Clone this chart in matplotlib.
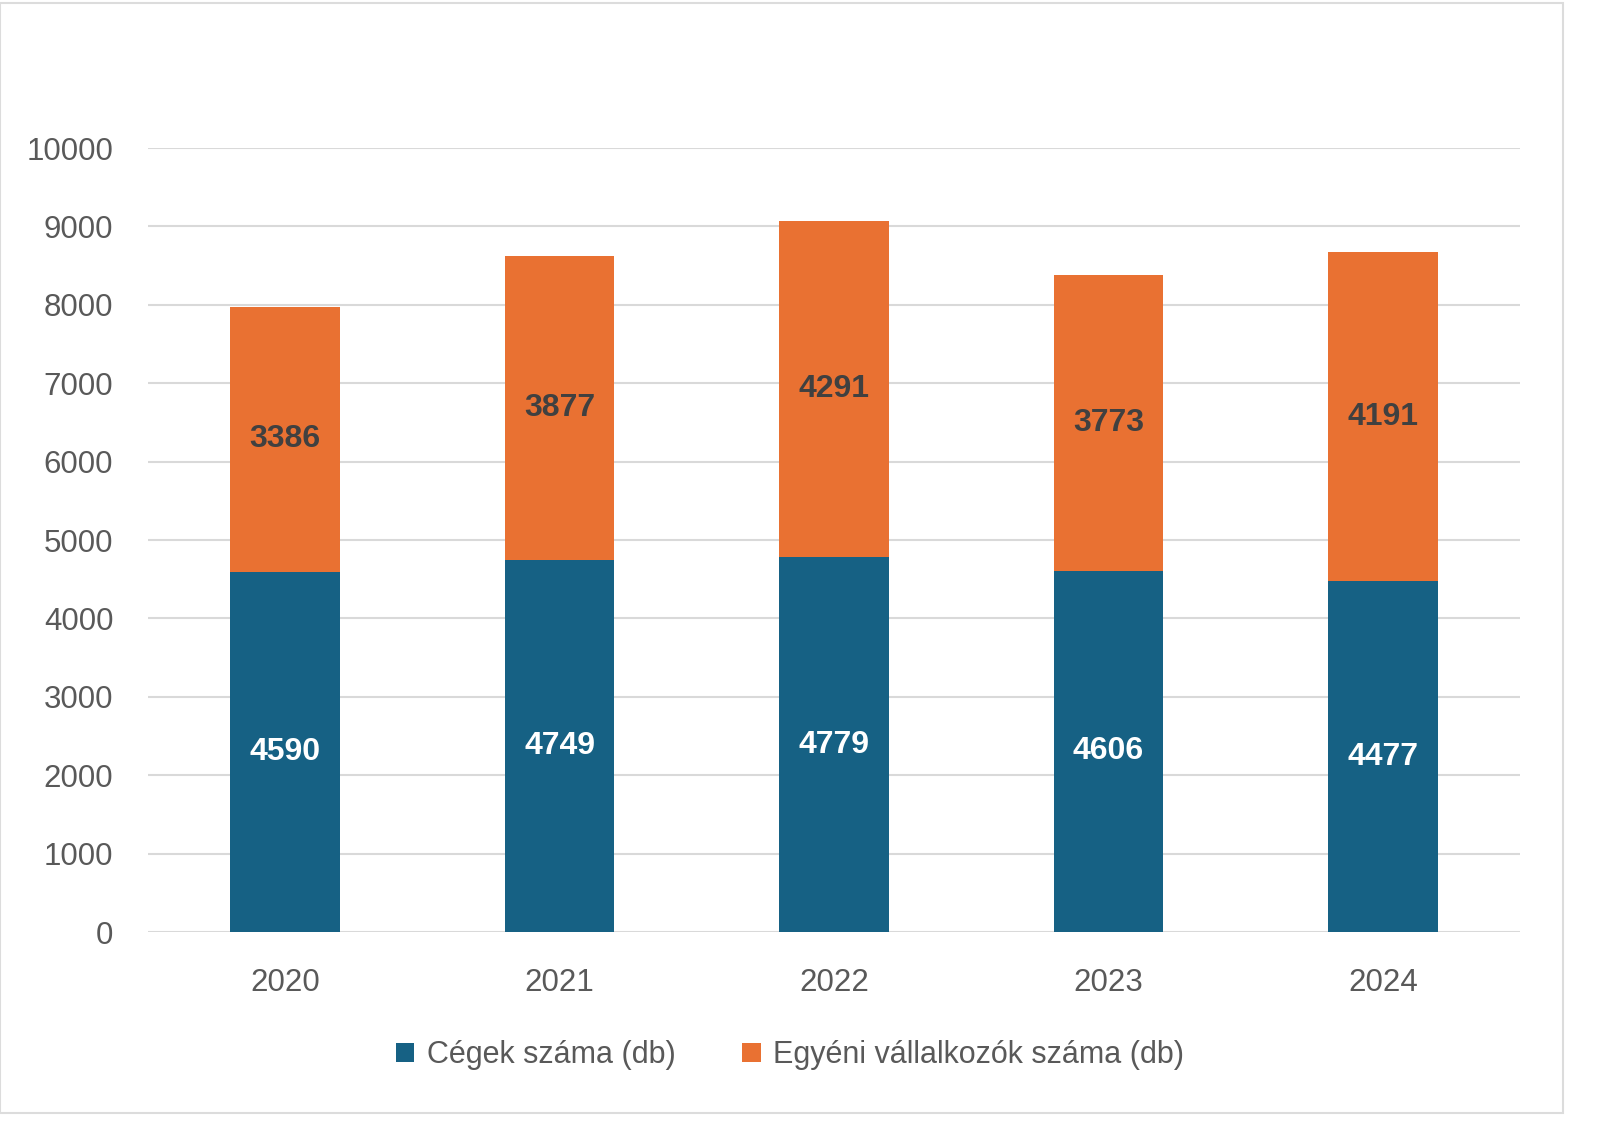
import matplotlib
matplotlib.use("Agg")
import matplotlib.pyplot as plt
from matplotlib.patches import Rectangle
import numpy as np

# data
years = ["2020", "2021", "2022", "2023", "2024"]
cegek = [4590, 4749, 4779, 4606, 4477]
egyeni = [3386, 3877, 4291, 3773, 4191]
series_names = ["Cégek száma (db)", "Egyéni vállalkozók száma (db)"]

plt.rcParams['font.family'] = ['Liberation Sans', 'DejaVu Sans']

fig = plt.figure(figsize=(16, 11.43), dpi=100)
ax = fig.add_axes([148 / 1600, 1 - 932 / 1143, (1520 - 148) / 1600, (932 - 148) / 1143])

x = np.arange(len(years))
blue = "#166184"
orange = "#E97132"
b1 = ax.bar(x, cegek, width=0.4, color=blue, label=series_names[0], zorder=3)
b2 = ax.bar(x, egyeni, width=0.4, bottom=cegek, color=orange, label=series_names[1], zorder=3)

ax.bar_label(b1, label_type='center', color='white', fontsize=23, fontweight='bold')
ax.bar_label(b2, label_type='center', color='#404040', fontsize=23, fontweight='bold')

ax.set_xlim(-0.5, len(years) - 0.5)
ax.set_ylim(0, 10000)
ax.set_yticks(np.arange(0, 10001, 1000))
ax.set_xticks(x)
ax.set_xticklabels(years)
ax.tick_params(axis='both', length=0, labelsize=22.5, labelcolor='#595959')
ax.tick_params(axis='x', pad=26)
ax.tick_params(axis='y', pad=25)
ax.grid(axis='y', color='#d9d9d9', linewidth=1.5, zorder=0)
for s in ax.spines.values():
    s.set_visible(False)

fig.legend(loc='center', bbox_to_anchor=(790 / 1600, 1 - 1055 / 1143), ncol=2,
           frameon=False, fontsize=22, labelcolor='#595959', handlelength=0.6,
           handleheight=0.6, handletextpad=0.4, columnspacing=2.2)

# faint outer frame
fig.patches.append(Rectangle((0.0, 1 - 1113 / 1143), 1563 / 1600, (1113 - 3) / 1143,
                             transform=fig.transFigure, fill=False,
                             edgecolor='#dcdcdc', linewidth=1.5))

fig.savefig("out.png")
